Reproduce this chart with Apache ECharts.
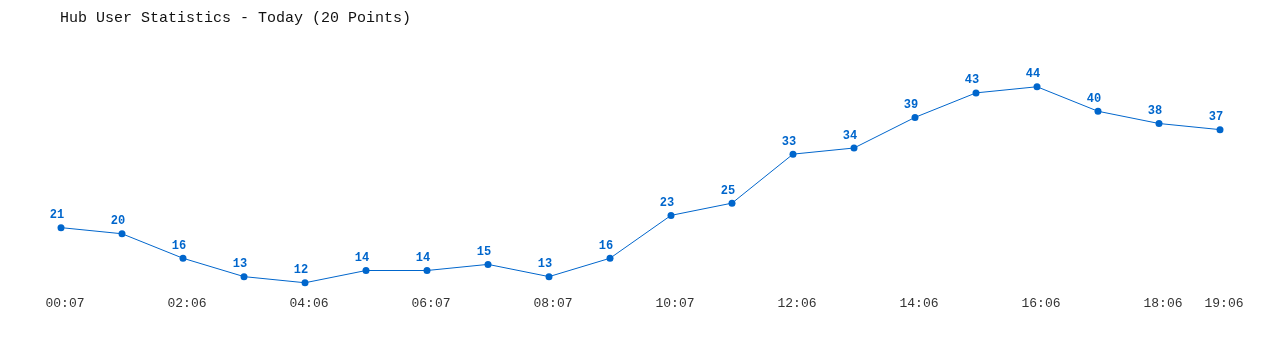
<!DOCTYPE html>
<html><head><meta charset="utf-8">
<script src="https://cdn.jsdelivr.net/npm/echarts@6/dist/echarts.min.js"></script>
<style>html,body{margin:0;padding:0;background:#fff}#c{width:1280px;height:350px}</style>
</head><body><div id="c"></div>
<script>
const categories = ["00:07","01:06","02:06","03:06","04:06","05:06","06:07","07:07","08:07","09:07","10:07","11:06","12:06","13:06","14:06","15:06","16:06","17:06","18:06","19:06"];
const users = [21,20,16,13,12,14,14,15,13,16,23,25,33,34,39,43,44,40,38,37];
const titleText = "Hub User Statistics - Today (20 Points)";
const chart = echarts.init(document.getElementById('c'));
chart.setOption({
  animation:false,
  title:{text:titleText,left:55,top:6,textStyle:{fontFamily:"Liberation Mono",fontSize:15,fontWeight:"normal",color:"#111"}},
  grid:{left:61,right:60,top:50,bottom:55},
  xAxis:{type:"category",data:categories,boundaryGap:false,
    axisLine:{show:false},axisTick:{show:false},splitLine:{show:false},
    axisLabel:{interval:function(i){return i%2===0||i===categories.length-1;},margin:2,padding:[0,0,0,8],
      fontFamily:"Liberation Mono",fontSize:13,color:"#333"}},
  yAxis:{type:"value",min:10,max:50,show:false,splitLine:{show:false}},
  series:[{type:"line",data:users,symbol:"circle",symbolSize:7,
    lineStyle:{color:"#0066cc",width:1},itemStyle:{color:"#0066cc"},
    label:{show:true,position:"top",distance:2,offset:[-4,-1],fontFamily:"Liberation Mono",fontWeight:"bold",fontSize:12,color:"#0066cc"}}]
});
</script></body></html>
